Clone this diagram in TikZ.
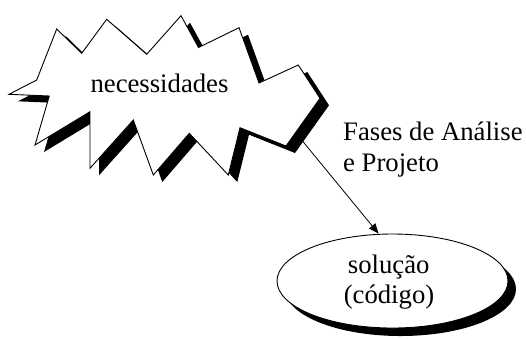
\documentclass[tikz,border=0pt]{standalone}
\usepackage{fontspec}
\setmainfont{Liberation Serif}
\usetikzlibrary{arrows.meta,shapes.geometric}
\begin{document}
\begin{tikzpicture}[x=1pt,y=-1pt,
  lbl/.style={inner sep=0pt,font=\fontsize{26.7}{31}\selectfont},
  outline/.style={draw=black,fill=white,line width=0.9pt,line join=miter},
  shadowfill/.style={fill=black},
  ellbox/.style={ellipse,inner sep=0pt,minimum width=231pt,minimum height=94pt},
  conn/.style={draw=black,line width=0.8pt,-{Triangle[length=10pt,width=8pt]}}]
\useasboundingbox (0,0) rectangle (526,338);
\def\burst{(9,94.3) -- (36.7,80) -- (56.7,29) -- (81.7,53.3) -- (106.7,19.3) -- (146.7,54.3) -- (181,15.7) -- (198.5,47.5) -- (239,27.7) -- (259,83) -- (298.3,65) -- (320,98.3) -- (286,146) -- (240,127.7) -- (228.3,175) -- (189.3,133.3) -- (153.3,175) -- (133.3,120) -- (90,168.3) -- (90,111.7) -- (35,145) -- (49.3,96) -- cycle}
% connector start (free end at the burst)
\coordinate (start) at (300,138);
% ellipse with shadow
\node[ellbox,shadowfill] (solshadow) at (400.5,289) {};
\node[ellbox,outline] (sol) at (392.5,281) {};
\draw[conn] (start) -- ([xshift=-14pt]sol.north);
% starburst shadow and outline
\fill[shadowfill, shift={(9,7)}] \burst;
\draw[outline] \burst;
% texts
\node[lbl,anchor=base] (nec) at (159.5,92.5) {necessidades};
\node[lbl,anchor=base west] (fases) at (343,140) {Fases de Análise};
\node[lbl,anchor=base west] (proj) at (343,171.7) {e Projeto};
\node[lbl,anchor=base] (solu) at (388.7,273.3) {solução};
\node[lbl,anchor=base] (cod) at (389,303.3) {(código)};
\end{tikzpicture}
\end{document}
